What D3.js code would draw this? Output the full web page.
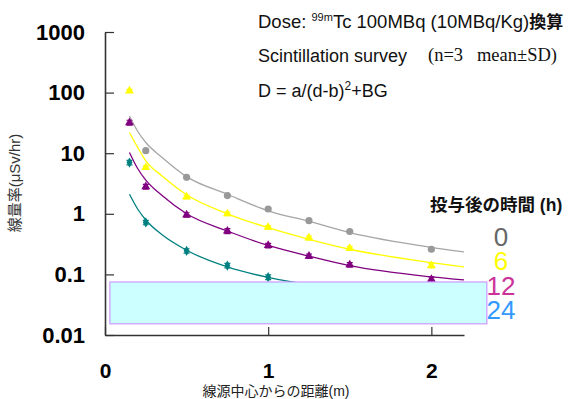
<!DOCTYPE html>
<html>
<head>
<meta charset="utf-8">
<script src="https://cdn.jsdelivr.net/npm/d3@7"></script>
<style>
  body { margin: 0; background: #fff; }
  text { font-family: "Liberation Sans", Arial, "Noto Sans CJK JP", sans-serif; }
</style>
</head>
<body>
<svg id="chart"></svg>
<script>
const width = 574;
const height = 399;

// measured points (distance in m, dose rate in uSv/hr)
const distances = [0.15, 0.25, 0.5, 0.75, 1.0, 1.25, 1.5, 2.0];
const h0 = [null, 11, 4.0, 2.0, 1.2, 0.77, 0.51, 0.26];
const h6 = [107, 5.8, 1.9, 1.0, 0.6, 0.40, 0.27, 0.14];
const h12 = [32, 2.8, 0.96, 0.52, 0.30, 0.20, 0.144, 0.083];
const h24 = [7.0, 0.72, 0.245, 0.14, 0.09, null, null, null];
const sd0 = [null, 0.4, 0.15, 0.08, 0.05, 0.03, 0.02, 0.01];
const sd6 = [6, 0.4, 0.12, 0.07, 0.04, 0.03, 0.02, 0.012];
const sd12 = [3, 0.25, 0.08, 0.05, 0.025, 0.017, 0.012, 0.008];
const sd24 = [0.6, 0.06, 0.02, 0.012, 0.008, null, null, null];

// fitted curves D = a/(d-b)^2 + BG
const fitDist = [0.15, 0.2, 0.25, 0.35, 0.5, 0.75, 1.0, 1.25, 1.5, 2.0, 2.2];
const fit0 = [41, 23, 15, 8.5, 4.1, 2.1, 1.12, 0.75, 0.49, 0.28, 0.236];
const fit6 = [22, 12.5, 7.5, 4.2, 2.06, 1.0, 0.59, 0.38, 0.26, 0.157, 0.133];
const fit12 = [10.3, 5.6, 3.6, 2.0, 1.0, 0.52, 0.30, 0.20, 0.139, 0.091, 0.081];
const fit24 = [2.1, 1.2, 0.79, 0.45, 0.25, 0.133, 0.089, 0.068, 0.058, 0.047, 0.044];

const groups = ["0", "6", "12", "24"];
const xTicks = [0, 1, 2];
const yTicks = [0.01, 0.1, 1, 10, 100, 1000];

const series = [
    {name: groups[0], pts: h0, sd: sd0, fit: fit0, color: "#999999", line: "#a6a6a6", label: "#666666", sym: d3.symbolCircle, size: 40},
    {name: groups[1], pts: h6, sd: sd6, fit: fit6, color: "#ffff00", line: "#ffff00", label: "#ffff00", sym: d3.symbolTriangle, size: 34},
    {name: groups[2], pts: h12, sd: sd12, fit: fit12, color: "#800080", line: "#800080", label: "#cc3399", sym: d3.symbolTriangle, size: 34},
    {name: groups[3], pts: h24, sd: sd24, fit: fit24, color: "#008080", line: "#008080", label: "#3399ff", sym: d3.symbolDiamond, size: 30}
];

const svg = d3.select("#chart")
    .attr("width", width)
    .attr("height", height);

const xScale = d3.scaleLinear()
    .domain([0, 2.2])
    .range([105, 464]);

const yScale = d3.scaleLog()
    .domain([0.01, 1000])
    .range([335, 32]);

// axes
const yAxis = d3.axisLeft(yScale)
    .tickValues(yTicks)
    .tickFormat(d => d >= 1 ? d3.format("d")(d) : String(d))
    .tickSizeInner(-9)
    .tickSizeOuter(0)
    .tickPadding(20);

const xAxis = d3.axisBottom(xScale)
    .tickValues(xTicks)
    .tickFormat(d3.format("d"))
    .tickSizeInner(-8)
    .tickSizeOuter(0)
    .tickPadding(28);

const gy = svg.append("g")
    .attr("transform", "translate(105,0)")
    .call(yAxis);

const gx = svg.append("g")
    .attr("transform", "translate(0,335)")
    .call(xAxis);

[gx, gy].forEach(g => {
    g.select(".domain").attr("stroke", "#333").attr("stroke-width", 1.6);
    g.selectAll(".tick line").attr("stroke", "#333").attr("stroke-width", 1.2);
    g.selectAll(".tick text")
        .attr("fill", "#000")
        .style("font-size", "22px")
        .style("font-weight", "bold");
});
gx.selectAll(".tick text").style("font-size", "21px");

// fitted curves
const line = d3.line()
    .x(d => xScale(d[0]))
    .y(d => yScale(d[1]))
    .curve(d3.curveMonotoneX);

series.forEach(s => {
    svg.append("path")
        .datum(fitDist.map((d, i) => [d, s.fit[i]]))
        .attr("fill", "none")
        .attr("stroke", s.line)
        .attr("stroke-width", 1.3)
        .attr("d", line);
});

// points with error bars
series.forEach(s => {
    const pts = distances.map((d, i) => ({d: d, v: s.pts[i], sd: s.sd[i]})).filter(p => p.v != null);
    const g = svg.append("g");
    g.selectAll(".err")
        .data(pts)
        .enter()
        .append("path")
        .attr("stroke", s.color)
        .attr("stroke-width", 1.2)
        .attr("fill", "none")
        .attr("d", p => {
            const x = xScale(p.d), y0 = yScale(p.v - p.sd), y1 = yScale(p.v + p.sd);
            return `M${x - 3},${y0}H${x + 3}M${x},${y0}V${y1}M${x - 3},${y1}H${x + 3}`;
        });
    g.selectAll(".pt")
        .data(pts)
        .enter()
        .append("path")
        .attr("transform", p => `translate(${xScale(p.d)},${yScale(p.v)})`)
        .attr("d", d3.symbol().type(s.sym).size(s.size))
        .attr("fill", s.color);
});

// background box
svg.append("rect")
    .attr("x", xScale(0.03))
    .attr("y", yScale(0.075))
    .attr("width", xScale(2.34) - xScale(0.03))
    .attr("height", yScale(0.0153) - yScale(0.075))
    .attr("fill", "#ccffff")
    .attr("stroke", "#cc99ff")
    .attr("stroke-width", 1.2);

// legend
svg.append("text")
    .attr("x", 430)
    .attr("y", 211)
    .style("font-size", "17.5px")
    .style("font-weight", "bold")
    .attr("fill", "#111")
    .text("投与後の時間 (h)");

const legendY = [246, 270, 295, 319];
svg.selectAll(".leg")
    .data(series)
    .enter()
    .append("text")
    .attr("x", 501)
    .attr("y", (d, i) => legendY[i])
    .attr("text-anchor", "middle")
    .style("font-size", "26px")
    .attr("fill", d => d.label)
    .text(d => d.name);

// annotations
const t1 = svg.append("text").attr("x", 258).attr("y", 28).style("font-size", "18.5px").attr("fill", "#111");
t1.append("tspan").text("Dose: ");
t1.append("tspan").attr("dy", -7).style("font-size", "11px").text("99m");
t1.append("tspan").attr("dy", 7).text("Tc 100MBq (10MBq/Kg)");
t1.append("tspan").style("font-weight", "bold").style("font-family", "'Noto Sans CJK JP'").style("font-size", "17px").text("換算");

svg.append("text").attr("x", 258).attr("y", 62).style("font-size", "18px").attr("fill", "#111")
    .text("Scintillation survey");
svg.append("text").attr("x", 428).attr("y", 61).style("font-size", "18.5px").attr("fill", "#111")
    .style("font-family", "'Liberation Serif', 'Times New Roman', serif")
    .attr("xml:space", "preserve")
    .text("(n=3   mean±SD)");

const t3 = svg.append("text").attr("x", 258).attr("y", 97).style("font-size", "18px").attr("fill", "#111");
t3.append("tspan").text("D = a/(d-b)");
t3.append("tspan").attr("dy", -7).style("font-size", "12px").text("2");
t3.append("tspan").attr("dy", 7).text("+BG");

// axis titles
svg.append("text")
    .attr("x", 276)
    .attr("y", 396)
    .attr("text-anchor", "middle")
    .style("font-size", "14px")
    .attr("fill", "#222")
    .text("線源中心からの距離(m)");

svg.append("text")
    .attr("transform", "translate(20,183) rotate(-90)")
    .attr("text-anchor", "middle")
    .style("font-size", "15px")
    .attr("fill", "#333")
    .text("線量率(μSv/hr)");
</script>
</body>
</html>
